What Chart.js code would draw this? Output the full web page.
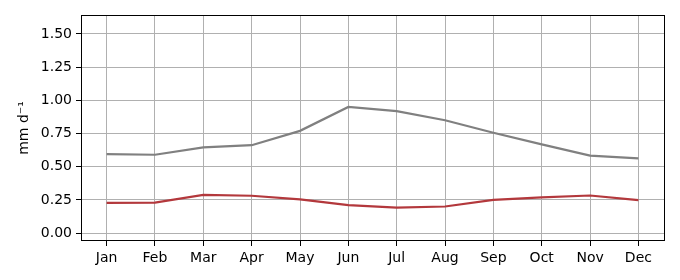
<!DOCTYPE html>
<html>
<head>
<meta charset="utf-8">
<script src="https://cdn.jsdelivr.net/npm/chart.js@4/dist/chart.umd.min.js"></script>
<style>
  html, body { margin: 0; padding: 0; background: #fff; }
  #wrap { width: 680px; height: 280px; }
</style>
</head>
<body>
<div id="wrap"><canvas id="chart" width="680" height="280"></canvas></div>
<script>
const months = ['Jan', 'Feb', 'Mar', 'Apr', 'May', 'Jun', 'Jul', 'Aug', 'Sep', 'Oct', 'Nov', 'Dec'];
const greySeries = [0.595, 0.590, 0.645, 0.662, 0.770, 0.950, 0.918, 0.850, 0.756, 0.668, 0.583, 0.563];
const redSeries = [0.228, 0.229, 0.287, 0.281, 0.254, 0.210, 0.192, 0.200, 0.250, 0.268, 0.283, 0.248];
const yTicks = [0, 0.25, 0.5, 0.75, 1.0, 1.25, 1.5];

// turn the month index into x positions
const toPoints = vals => vals.map((v, i) => ({ x: i, y: v }));

// black frame round the plot area
const frame = {
  id: 'frame',
  afterDraw(chart) {
    const a = chart.chartArea;
    const ctx = chart.ctx;
    ctx.save();
    ctx.strokeStyle = '#000';
    ctx.lineWidth = 1;
    ctx.strokeRect(a.left + 0.5, a.top + 0.5, a.right - a.left - 1, a.bottom - a.top - 1);
    ctx.restore();
  }
};

const font = { family: 'DejaVu Sans', size: 14 };

new Chart(document.getElementById('chart'), {
  type: 'line',
  data: {
    datasets: [
      { data: toPoints(greySeries), borderColor: '#808080', borderWidth: 2.2, pointRadius: 0, tension: 0 },
      { data: toPoints(redSeries), borderColor: '#b3383c', borderWidth: 2.2, pointRadius: 0, tension: 0 }
    ]
  },
  options: {
    responsive: false,
    animation: false,
    layout: { padding: { top: 15, right: 15, left: 0, bottom: 0 } },
    plugins: { legend: { display: false }, tooltip: { enabled: false } },
    scales: {
      x: {
        type: 'linear',
        min: -0.53,
        max: 11.55,
        afterBuildTicks: s => { s.ticks = months.map((m, i) => ({ value: i })); },
        afterFit: s => { s.height = 39; },
        ticks: { callback: v => months[v], color: '#000', font: font, padding: 4, maxRotation: 0, autoSkip: false },
        grid: { color: '#b0b0b0', lineWidth: 1, tickLength: 5, tickColor: '#000' },
        border: { display: false }
      },
      y: {
        min: -0.06,
        max: 1.643,
        afterBuildTicks: s => { s.ticks = yTicks.map(v => ({ value: v })); },
        afterFit: s => { s.width = 81; },
        ticks: { callback: v => v.toFixed(2), color: '#000', font: font, padding: 4 },
        grid: { color: '#b0b0b0', lineWidth: 1, tickLength: 5, tickColor: '#000' },
        border: { display: false },
        title: { display: true, text: 'mm d⁻¹', color: '#000', font: font, padding: { top: 16, bottom: 0 } }
      }
    }
  },
  plugins: [frame]
});
</script>
</body>
</html>
